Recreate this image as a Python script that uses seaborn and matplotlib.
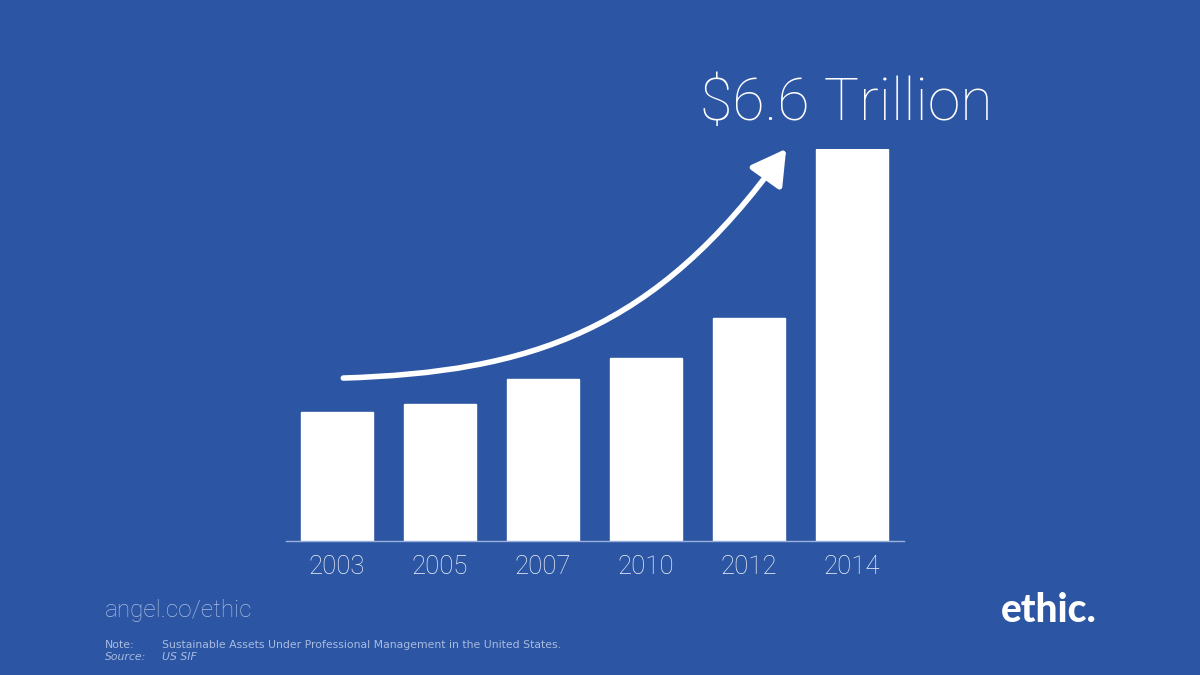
import seaborn as sns
import matplotlib.pyplot as plt
from matplotlib.patches import FancyArrowPatch
from matplotlib.path import Path

# data: sustainable assets under professional management (trillions USD)
years = ['2003', '2005', '2007', '2010', '2012', '2014']
assets = [2.16, 2.29, 2.71, 3.07, 3.74, 6.57]

bg = '#2C56A4'
tick_color = '#F0F4FA'
faint = '#A8BBE0'
light_font = ['Roboto', 'Lato', 'DejaVu Sans']

sns.set_theme(style='white')
plt.rcParams['font.family'] = ['Lato', 'DejaVu Sans']

fig = plt.figure(figsize=(12, 6.75), dpi=100, facecolor=bg)
ax = fig.add_axes([0.238, 0.1985, 0.515, 0.581])
ax.set_facecolor(bg)

sns.barplot(x=years, y=assets, color='white', saturation=1, width=0.7, ax=ax)
ax.set_xlim(-0.5, len(years) - 0.5)
ax.set_ylim(0, max(assets))

for side in ['top', 'right', 'left']:
    ax.spines[side].set_visible(False)
ax.spines['bottom'].set_color('#9AB0DA')
ax.spines['bottom'].set_linewidth(1)
ax.set_yticks([])
ax.tick_params(axis='x', length=0, pad=10, labelsize=18.5, labelcolor=tick_color)
for lbl in ax.get_xticklabels():
    lbl.set_family(light_font)
    lbl.set_fontweight('light')

# curved growth arrow (data coords)
verts = [(0.06, 2.73), (1.87, 2.83), (3.09, 3.50), (4.36, assets[-1])]
arrow_path = Path(verts, [Path.MOVETO, Path.CURVE4, Path.CURVE4, Path.CURVE4])
arrow = FancyArrowPatch(path=arrow_path, arrowstyle='-|>,head_length=0.42,head_width=0.24',
                        mutation_scale=50, color='white', linewidth=4,
                        transform=ax.transData, clip_on=False)
ax.add_patch(arrow)

fig.text(0.583, 0.847, r'\$6.6 Trillion', color='white', fontsize=42.5,
         family=light_font, fontweight='light', ha='left', va='center')

fig.text(105 / 1200, 1 - 610 / 675, 'angel.co/ethic', color=faint, fontsize=17.5,
         family=light_font, fontweight='light', ha='left', va='center')
note_font = dict(color=faint, fontsize=7.8, family='DejaVu Sans', ha='left', va='center')
fig.text(105 / 1200, 1 - 645 / 675, 'Note:', **note_font)
fig.text(162 / 1200, 1 - 645 / 675,
         'Sustainable Assets Under Professional Management in the United States.',
         **note_font)
fig.text(105 / 1200, 1 - 657 / 675, 'Source:', style='italic', **note_font)
fig.text(162 / 1200, 1 - 657 / 675, 'US SIF', style='italic', **note_font)

fig.text(1097 / 1200, 1 - 611 / 675, 'ethic.', color='white', fontsize=28,
         fontweight='black', ha='right', va='center')

fig.savefig('out.png', dpi=100, facecolor=bg)
